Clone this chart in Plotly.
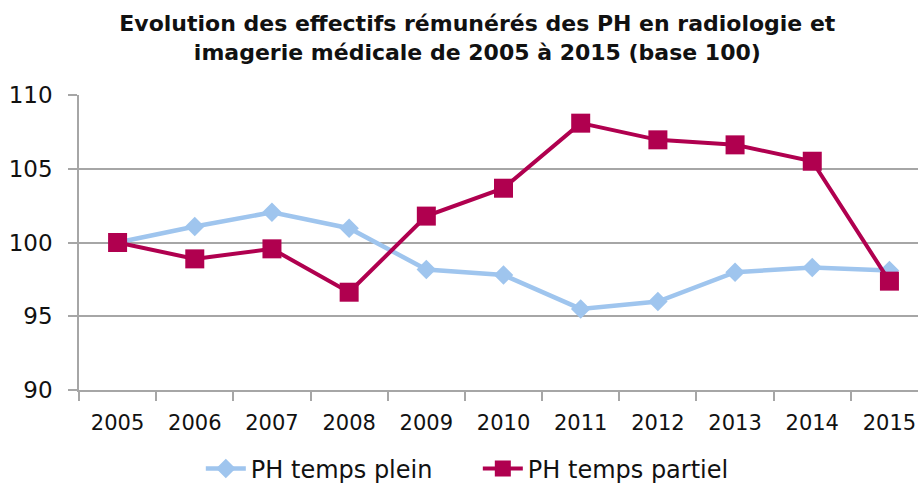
import plotly.graph_objects as go

years = ["2005", "2006", "2007", "2008", "2009", "2010", "2011", "2012", "2013", "2014", "2015"]
plein = [100, 101.08, 102.05, 100.97, 98.17, 97.8, 95.5, 96.0, 97.99, 98.3, 98.1]
partiel = [100, 98.89, 99.57, 96.63, 101.79, 103.68, 108.09, 106.96, 106.62, 105.51, 97.38]
y_ticks = [90, 95, 100, 105, 110]

title_text = "Evolution des effectifs rémunérés des PH en radiologie et<br>imagerie médicale de 2005 à 2015 (base 100)"
FONT = "DejaVu Sans, sans-serif"

fig = go.Figure()
fig.add_trace(go.Scatter(
    x=years, y=plein, name="PH temps plein", mode="lines+markers",
    line=dict(color="#9FC5EE", width=4.5),
    marker=dict(symbol="diamond", size=15, color="#9FC5EE"),
))
fig.add_trace(go.Scatter(
    x=years, y=partiel, name="PH temps partiel", mode="lines+markers",
    line=dict(color="#B0004F", width=4),
    marker=dict(symbol="square", size=19, color="#B0004F"),
))

fig.update_layout(
    width=918, height=484,
    margin=dict(l=79, r=0, t=95, b=94, autoexpand=False),
    paper_bgcolor="white", plot_bgcolor="white",
    title=dict(text=title_text, x=0.52, xanchor="center", y=0.936, yanchor="top",
               font=dict(family=FONT, size=22, color="#111111", weight="bold")),
    showlegend=True,
    legend=dict(orientation="h", xref="container", x=0.5205, xanchor="center",
                yref="container", y=0.031, yanchor="middle",
                font=dict(family=FONT, size=24, color="#111111"), itemwidth=40,
                entrywidth=222, entrywidthmode="pixels"),
    xaxis=dict(type="category", range=[-0.5, 10.37], showgrid=False, automargin=False,
               showline=True, linecolor="#A6A6A6", linewidth=1.5,
               ticks="outside", tickson="boundaries", ticklen=9, tickcolor="#A6A6A6", tickwidth=1.5,
               tickfont=dict(family=FONT, size=21, color="#111111"), ticklabelstandoff=13),
    yaxis=dict(range=[90, 110], tickvals=y_ticks, showgrid=True, gridcolor="#A6A6A6", gridwidth=1.5,
               showline=True, linecolor="#A6A6A6", linewidth=1.5, zeroline=False, automargin=False,
               ticks="outside", ticklen=9, tickcolor="#A6A6A6", tickwidth=1.5,
               tickfont=dict(family=FONT, size=23, color="#111111"), ticklabelstandoff=11),
)

fig.write_html("out.html", config={"displayModeBar": False},
               post_script="document.body.style.margin='0';")
